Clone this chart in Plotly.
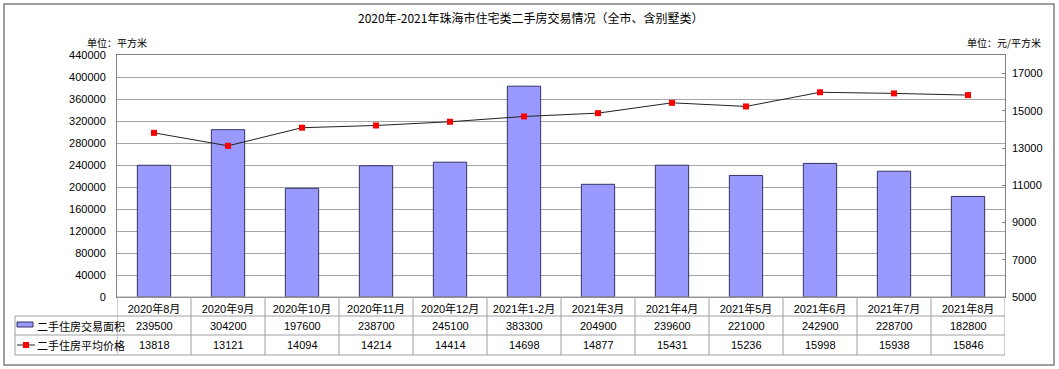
import plotly.graph_objects as go

categories = ["2020年8月", "2020年9月", "2020年10月", "2020年11月", "2020年12月", "2021年1-2月",
              "2021年3月", "2021年4月", "2021年5月", "2021年6月", "2021年7月", "2021年8月"]
area = [239500, 304200, 197600, 238700, 245100, 383300, 204900, 239600, 221000, 242900, 228700, 182800]
price = [13818, 13121, 14094, 14214, 14414, 14698, 14877, 15431, 15236, 15998, 15938, 15846]
series_names = ["二手住房交易面积", "二手住房平均价格"]
title = "2020年-2021年珠海市住宅类二手房交易情况（全市、含别墅类）"

W, H = 1059, 369
L, R, T, B = 117, 1005, 55, 297
PW, PH = R - L, B - T

def px(x):
    return (x - L) / PW

def py(y):
    return (B - y) / PH

FONT = "Liberation Sans, Noto Sans CJK SC, sans-serif"
CJK = "Noto Sans CJK SC, sans-serif"
GRID = "#A6A6A6"

fig = go.Figure()
fig.add_trace(go.Bar(x=categories, y=area, name=series_names[0], width=0.45,
                     marker=dict(color="#9999FF", line=dict(color="#333366", width=1)),
                     yaxis="y"))
fig.add_trace(go.Scatter(x=categories, y=price, name=series_names[1], mode="lines+markers",
                         line=dict(color="#222222", width=1),
                         marker=dict(color="#FF0000", size=6, symbol="square"),
                         yaxis="y2"))

shapes = []
# outer frame
shapes.append(dict(type="rect", xref="paper", yref="paper", x0=px(4), x1=px(1054), y0=py(4), y1=py(365),
                   line=dict(color="#808080", width=1.5), layer="below"))
# table lines
row_y = [297, 316, 335, 355]
for i, yy in enumerate(row_y):
    x0 = L if i == 0 else 15
    shapes.append(dict(type="line", xref="paper", yref="paper", x0=px(x0), x1=px(R), y0=py(yy), y1=py(yy),
                       line=dict(color="#A0A0A0", width=1)))
shapes.append(dict(type="line", xref="paper", yref="paper", x0=px(15), x1=px(15), y0=py(316), y1=py(355),
                   line=dict(color="#A0A0A0", width=1)))
for k in range(len(categories) + 1):
    shapes.append(dict(type="line", xref="x", yref="paper", x0=k - 0.5, x1=k - 0.5, y0=py(297), y1=py(355),
                       line=dict(color="#A0A0A0", width=1)))
# legend keys
shapes.append(dict(type="rect", xref="paper", yref="paper", x0=px(17), x1=px(33), y0=py(322), y1=py(327),
                   fillcolor="#9999FF", line=dict(color="#333366", width=1)))
shapes.append(dict(type="line", xref="paper", yref="paper", x0=px(17), x1=px(35), y0=py(345), y1=py(345),
                   line=dict(color="#222222", width=1)))
shapes.append(dict(type="rect", xref="paper", yref="paper", x0=px(23), x1=px(29), y0=py(342), y1=py(348),
                   fillcolor="#FF0000", line=dict(color="#FF0000", width=0)))

annotations = []
annotations.append(dict(text=title, xref="paper", yref="paper", x=px(530), y=py(17), showarrow=False,
                        font=dict(family=CJK, size=12, color="#000000"), xanchor="center", yanchor="middle"))
annotations.append(dict(text="单位：平方米", xref="paper", yref="paper", x=px(85), y=py(43), showarrow=False,
                        font=dict(family=CJK, size=10, color="#000000"), xanchor="left", yanchor="middle"))
annotations.append(dict(text="单位：元/平方米", xref="paper", yref="paper", x=px(1043), y=py(43), showarrow=False,
                        font=dict(family=CJK, size=10, color="#000000"), xanchor="right", yanchor="middle"))
for name, yy in zip(series_names, [326, 345]):
    annotations.append(dict(text=name, xref="paper", yref="paper", x=px(35), y=py(yy), showarrow=False,
                            font=dict(family=CJK, size=11, color="#000000"), xanchor="left", yanchor="middle"))
for c, a, p in zip(categories, area, price):
    annotations.append(dict(text=str(a), xref="x", yref="paper", x=c, y=py(326), showarrow=False,
                            font=dict(family=FONT, size=11, color="#000000"), yanchor="middle"))
    annotations.append(dict(text=str(p), xref="x", yref="paper", x=c, y=py(345), showarrow=False,
                            font=dict(family=FONT, size=11, color="#000000"), yanchor="middle"))

fig.update_layout(
    width=W, height=H,
    margin=dict(l=L, r=W - R, t=T, b=H - B),
    paper_bgcolor="white", plot_bgcolor="white",
    showlegend=False,
    shapes=shapes, annotations=annotations,
    font=dict(family=FONT, size=11, color="#000000"),
    bargap=0.55,
    xaxis=dict(type="category", range=[-0.5, 11.5], showgrid=False, ticks="",
               showline=True, linecolor="#808080", mirror=True,
               tickfont=dict(family=FONT, size=11), ticklabelstandoff=2),
    yaxis=dict(range=[0, 440000], dtick=40000, showgrid=True, gridcolor=GRID, gridwidth=1,
               showline=True, linecolor="#808080", mirror=True, ticks="",
               tickfont=dict(family=FONT, size=11), zeroline=False, tickformat="d",
               ticklabelstandoff=8),
    yaxis2=dict(range=[5000, 18000], tick0=5000, dtick=2000, overlaying="y", side="right",
                showgrid=False, showline=False, ticks="inside", ticklen=3, tickcolor="#808080",
                tickfont=dict(family=FONT, size=11), zeroline=False, tickformat="d",
                ticklabelstandoff=6),
)

fig.write_html("out.html", config={"displayModeBar": False},
               post_script="document.body.style.margin='0';document.body.style.overflow='hidden';")
